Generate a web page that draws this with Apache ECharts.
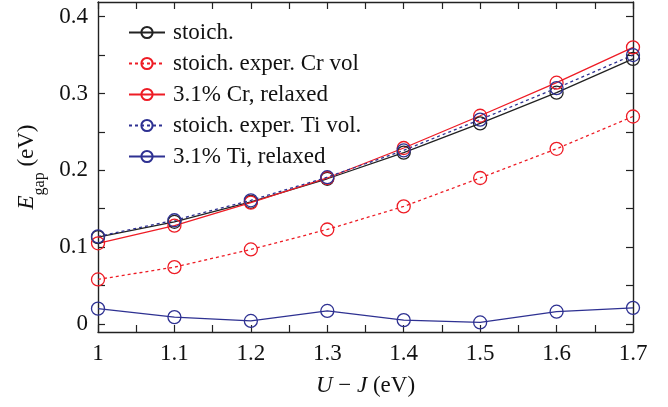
<!DOCTYPE html>
<html>
<head>
  <meta charset="utf-8" />
  <title>Egap vs U-J</title>
  <style>
    html, body { margin: 0; padding: 0; background: #fff; }
  </style>
  <script src="https://cdn.jsdelivr.net/npm/echarts@6/dist/echarts.min.js"></script>
</head>
<body>
  <div id="main" style="width:668px;height:407px;"></div>
  <script type="text/javascript">
    // U-J values (eV)
    var uj = [1.0, 1.1, 1.2, 1.3, 1.4, 1.5, 1.6, 1.7];

    // band gaps (eV)
    var stoich     = [0.113, 0.133, 0.159, 0.189, 0.223, 0.261, 0.301, 0.345];
    var crExper    = [0.058, 0.074, 0.097, 0.123, 0.153, 0.190, 0.228, 0.270];
    var crRelaxed  = [0.105, 0.128, 0.158, 0.190, 0.229, 0.271, 0.314, 0.360];
    var tiExper    = [0.114, 0.135, 0.161, 0.191, 0.226, 0.266, 0.307, 0.350];
    var tiRelaxed  = [0.020, 0.009, 0.004, 0.017, 0.005, 0.002, 0.016, 0.021];

    var names = ['stoich.', 'stoich. exper. Cr vol', '3.1% Cr, relaxed', 'stoich. exper. Ti vol.', '3.1% Ti, relaxed'];

    // ticks
    var xTicks  = [1.0, 1.05, 1.1, 1.15, 1.2, 1.25, 1.3, 1.35, 1.4, 1.45, 1.5, 1.55, 1.6, 1.65, 1.7];
    var xLabels = [1.0, 1.1, 1.2, 1.3, 1.4, 1.5, 1.6, 1.7];
    var yTicks  = [0, 0.05, 0.1, 0.15, 0.2, 0.25, 0.3, 0.35, 0.4];
    var yLabels = [0, 0.1, 0.2, 0.3, 0.4];

    var font = 'Liberation Serif';
    var ink = '#222';
    var red = '#ee1c25';
    var blue = '#2e3192';

    var myChart = echarts.init(document.getElementById('main'));

    function pairs(ys) {
      return uj.map(function (x, i) { return [x, ys[i]]; });
    }

    function mkSeries(name, ys, color, dashed) {
      return {
        name: name,
        type: 'line',
        data: pairs(ys),
        symbol: 'circle',
        symbolSize: 13,
        showSymbol: true,
        lineStyle: { color: color, width: 1.3, type: dashed ? [3, 3] : 'solid' },
        // hollow circles, lines show through
        itemStyle: { color: 'rgba(255,255,255,0)', borderColor: color, borderWidth: 1.3 },
        emphasis: { disabled: true },
        animation: false
      };
    }

    function axisCommon(pos, showLabels, ticks, labels) {
      return {
        type: 'value',
        position: pos,
        axisLine: { show: true, onZero: false, lineStyle: { color: ink, width: 1.4 } },
        axisTick: { show: true, inside: true, length: 7, customValues: ticks, lineStyle: { color: ink, width: 1.2 } },
        axisLabel: {
          show: showLabels, customValues: labels, color: '#111',
          fontFamily: font, fontSize: 23, margin: 10
        },
        splitLine: { show: false }
      };
    }

    var xBottom = axisCommon('bottom', true, xTicks, xLabels);
    xBottom.min = 1.0; xBottom.max = 1.7;
    xBottom.name = '{i|U} − {i|J} (eV)';
    xBottom.nameLocation = 'middle';
    xBottom.nameGap = 42;
    xBottom.nameTextStyle = {
      fontFamily: font, fontSize: 23, color: '#111',
      rich: { i: { fontFamily: font, fontSize: 23, fontStyle: 'italic', color: '#111' } }
    };
    var xTop = axisCommon('top', false, xTicks, xLabels);
    xTop.min = 1.0; xTop.max = 1.7;

    var yLeft = axisCommon('left', true, yTicks, yLabels);
    yLeft.min = -0.0104; yLeft.max = 0.419;
    yLeft.name = '{i|E}{s|gap} (eV)';
    yLeft.nameLocation = 'middle';
    yLeft.nameRotate = 90;
    yLeft.nameGap = 56;
    yLeft.nameTextStyle = {
      fontFamily: font, fontSize: 23, color: '#111', lineHeight: 30,
      rich: {
        i: { fontFamily: font, fontSize: 23, fontStyle: 'italic', color: '#111', lineHeight: 30 },
        s: { fontFamily: font, fontSize: 16, color: '#111', lineHeight: 30, verticalAlign: 'bottom', padding: [0, 0, -6, 0] }
      }
    };
    var yRight = axisCommon('right', false, yTicks, yLabels);
    yRight.min = -0.0104; yRight.max = 0.419;

    var option = {
      animation: false,
      backgroundColor: '#fff',
      grid: { left: 98, right: 35, top: 2, bottom: 75, containLabel: false },
      legend: {
        orient: 'vertical',
        left: 123,
        top: 16,
        itemWidth: 36,
        itemHeight: 14,
        itemGap: 8,
        textStyle: { fontFamily: font, fontSize: 23, color: '#111', padding: [0, 0, 0, 3], lineHeight: 22 },
        data: names
      },
      xAxis: [xBottom, xTop],
      yAxis: [yLeft, yRight],
      series: [
        mkSeries(names[0], stoich, ink, false),
        mkSeries(names[1], crExper, red, true),
        mkSeries(names[2], crRelaxed, red, false),
        mkSeries(names[3], tiExper, blue, true),
        mkSeries(names[4], tiRelaxed, blue, false)
      ]
    };
    myChart.setOption(option);
  </script>
</body>
</html>
